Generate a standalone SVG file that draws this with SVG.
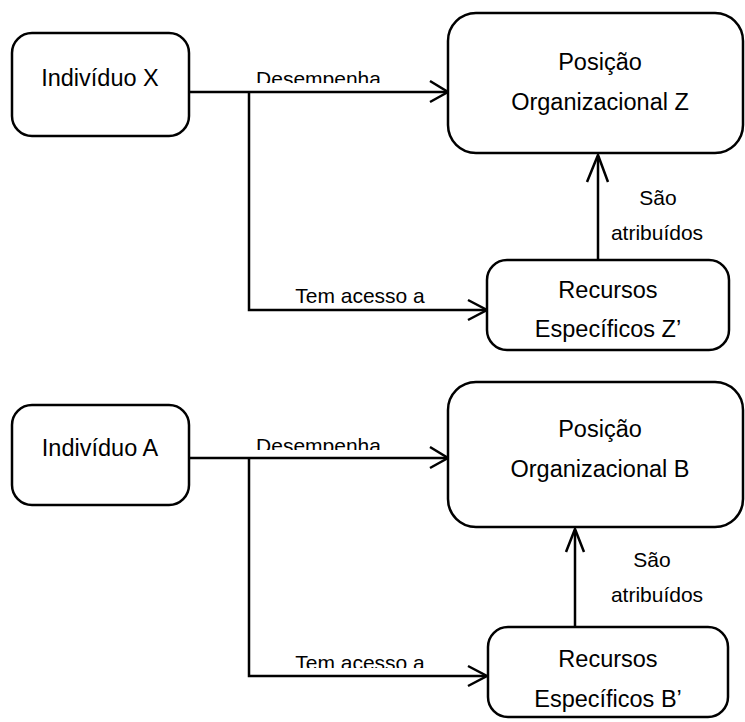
<svg xmlns="http://www.w3.org/2000/svg" width="745" height="722" viewBox="0 0 745 722">
  <style>
    .box { fill: #ffffff; stroke: #000000; stroke-width: 2.5; }
    .node { font-family: "Liberation Sans", Arial, sans-serif; font-size: 23.5px; fill: #000000; text-anchor: middle; }
    .lbl { font-family: "Liberation Sans", Arial, sans-serif; font-size: 21px; fill: #000000; text-anchor: middle; }
    .wire { fill: none; stroke: #000000; stroke-width: 2.5; }
    .head { fill: none; stroke: #000000; stroke-width: 2.5; stroke-linejoin: miter; }
  </style>
  <defs>
    <clipPath id="clipDesX"><rect x="200" y="50" width="240" height="33"/></clipPath>
    <clipPath id="clipDesA"><rect x="200" y="420" width="240" height="30"/></clipPath>
    <clipPath id="clipTemA"><rect x="260" y="630" width="220" height="38"/></clipPath>
  </defs>

  <rect width="745" height="722" fill="#ffffff"/>

  <!-- connectors -->
  <g id="connectors">
    <!-- upper group -->
    <line class="wire" x1="189" y1="92" x2="447" y2="92"/>
    <polyline class="head" points="430,81 448,92 430,102"/>
    <polyline class="wire" points="249,92 249,310 486,310"/>
    <polyline class="head" points="468,300 487,310 468,320"/>
    <line class="wire" x1="598" y1="260" x2="598" y2="156"/>
    <polyline class="head" points="587,182 598,155 608,182"/>
    <g clip-path="url(#clipDesX)"><text class="lbl" x="318.5" y="86">Desempenha</text></g>
    <text class="lbl" x="360" y="303">Tem acesso a</text>
    <text class="lbl" x="658" y="205">São</text>
    <text class="lbl" x="657" y="240">atribuídos</text>

    <!-- lower group -->
    <line class="wire" x1="189" y1="458" x2="447" y2="458"/>
    <polyline class="head" points="430,447 448,458 430,468"/>
    <polyline class="wire" points="249,458 249,676 486,676"/>
    <polyline class="head" points="468,666 487,676 468,686"/>
    <line class="wire" x1="575" y1="627" x2="575" y2="530"/>
    <polyline class="head" points="566,552 575,529 584,552"/>
    <g clip-path="url(#clipDesA)"><text class="lbl" x="318.5" y="453">Desempenha</text></g>
    <g clip-path="url(#clipTemA)"><text class="lbl" x="360" y="670">Tem acesso a</text></g>
    <text class="lbl" x="652" y="567">São</text>
    <text class="lbl" x="657" y="602">atribuídos</text>
  </g>

  <!-- upper nodes -->
  <g id="individuo-x">
    <rect class="box" x="12" y="33" width="177" height="103" rx="20"/>
    <text class="node" x="100" y="86">Indivíduo X</text>
  </g>
  <g id="posicao-z">
    <rect class="box" x="448" y="13" width="295" height="140" rx="28"/>
    <text class="node" x="600" y="70">Posição</text>
    <text class="node" x="600" y="110">Organizacional Z</text>
  </g>
  <g id="recursos-z">
    <rect class="box" x="487" y="260" width="242" height="90" rx="20"/>
    <text class="node" x="608" y="298">Recursos</text>
    <text class="node" x="608" y="337">Específicos Z’</text>
  </g>

  <!-- lower nodes -->
  <g id="individuo-a">
    <rect class="box" x="12" y="405" width="177" height="100" rx="20"/>
    <text class="node" x="100" y="456">Indivíduo A</text>
  </g>
  <g id="posicao-b">
    <rect class="box" x="448" y="382" width="295" height="145" rx="28"/>
    <text class="node" x="600" y="437">Posição</text>
    <text class="node" x="600" y="477">Organizacional B</text>
  </g>
  <g id="recursos-b">
    <rect class="box" x="488" y="627" width="240" height="90" rx="20"/>
    <text class="node" x="608" y="667">Recursos</text>
    <text class="node" x="608" y="707">Específicos B’</text>
  </g>
</svg>
